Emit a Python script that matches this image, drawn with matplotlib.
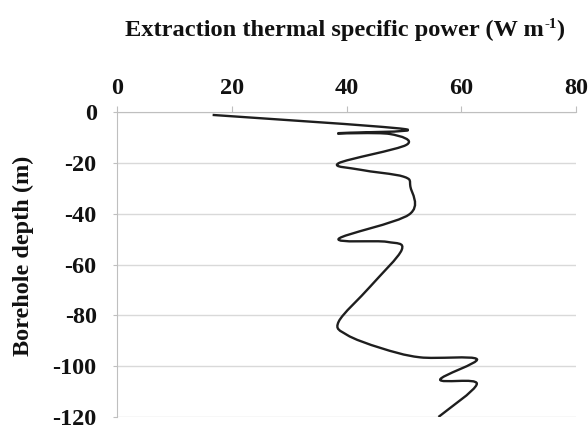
import matplotlib
matplotlib.use("Agg")
import matplotlib.pyplot as plt
import numpy as np
from matplotlib.path import Path
from matplotlib.patches import PathPatch

# Data
depth = [-1.0, -6.6, -8.2, -8.5, -12.8, -20.0, -22.6, -25.3, -29.2, -40.2,
         -49.8, -51.0, -54.1, -68.6, -82.4, -87.6, -92.8, -96.5, -97.2,
         -105.3, -106.9, -120.0]
power = [16.6, 50.2, 38.4, 47.5, 50.4, 38.6, 42.4, 49.9, 51.1, 50.9,
         38.6, 47.0, 49.6, 44.1, 38.6, 40.0, 45.9, 52.8, 62.7,
         56.3, 62.7, 56.0]
x_ticks = [0, 20, 40, 60, 80]
y_ticks = [0, -20, -40, -60, -80, -100, -120]

title_main = "Extraction thermal specific power (W m"
title_sup = "-1"
title_end = ")"
ylabel = "Borehole depth (m)"

plt.rcParams['font.family'] = ['Liberation Serif', 'DejaVu Serif']
plt.rcParams['axes.unicode_minus'] = False

fig = plt.figure(figsize=(5.88, 4.29), dpi=100)
ax = fig.add_axes([0.1998, 0.028, 0.7798, 0.710])

# smoothed line (Catmull-Rom as Bezier, like a spreadsheet "smoothed line")
P = np.column_stack([power, depth])
n = len(P)
verts = [tuple(P[0])]
codes = [Path.MOVETO]
for i in range(n - 1):
    p0 = P[i - 1] if i > 0 else P[i]
    p1 = P[i]
    p2 = P[i + 1]
    p3 = P[i + 2] if i + 2 < n else P[i + 1]
    c1 = p1 + (p2 - p0) / 6.0
    c2 = p2 - (p3 - p1) / 6.0
    verts += [tuple(c1), tuple(c2), tuple(p2)]
    codes += [Path.CURVE4] * 3
path = Path(verts, codes)
ax.add_patch(PathPatch(path, facecolor='none', edgecolor='#1e1e1e', lw=1.7, zorder=3))

ax.set_xlim(0, 80)
ax.set_ylim(-120, 0)
ax.set_xticks(x_ticks)
ax.set_yticks(y_ticks)
ax.xaxis.tick_top()
ax.xaxis.set_label_position('top')
ax.tick_params(axis='x', direction='out', length=4.3, color='#bfbfbf', width=0.8,
               labelsize=17.5, pad=5, labelcolor='#111111')
ax.tick_params(axis='y', direction='out', length=3, color='#bfbfbf', width=0.8,
               labelsize=17.5, pad=12, labelcolor='#111111')
for lab in ax.get_xticklabels() + ax.get_yticklabels():
    lab.set_fontweight('bold')
ax.grid(axis='y', color='#d9d9d9', lw=1.0)
ax.set_axisbelow(True)
for s in ['right', 'bottom']:
    ax.spines[s].set_visible(False)
for s in ['left', 'top']:
    ax.spines[s].set_color('#bfbfbf')
    ax.spines[s].set_linewidth(0.8)

fig.text(23 / 588, 1 - 256 / 429, ylabel, fontsize=17.5, fontweight='bold',
         color='#111111', rotation=90, ha='center', va='center')

# title with a small superscript hyphen "-1"
fs = 17.6
renderer = fig.canvas.get_renderer()
t1 = fig.text(0, 0, title_main, fontsize=fs, fontweight='bold', color='#111111')
t2 = fig.text(0, 0, title_sup, fontsize=fs * 0.62, fontweight='bold', color='#111111')
t3 = fig.text(0, 0, title_end, fontsize=fs, fontweight='bold', color='#111111')
w1 = t1.get_window_extent(renderer).width
w2 = t2.get_window_extent(renderer).width
w3 = t3.get_window_extent(renderer).width
total = w1 + w2 + w3
cx = 345.0
x0 = cx - total / 2
base_y = 429 - 36.0  # baseline in pixels from bottom
t1.set_position((x0 / 588, base_y / 429))
t2.set_position(((x0 + w1) / 588, (base_y + 7.5) / 429))
t3.set_position(((x0 + w1 + w2) / 588, base_y / 429))
for t in (t1, t2, t3):
    t.set_va('baseline')
    t.set_ha('left')

fig.savefig('out.png', dpi=100, facecolor='white')
